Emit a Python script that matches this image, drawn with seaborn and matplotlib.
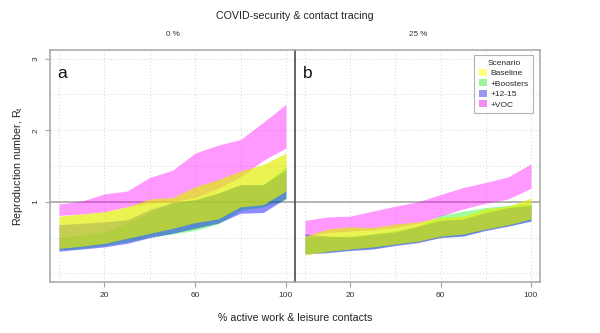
import numpy as np
import pandas as pd
import matplotlib
matplotlib.use("Agg")
import matplotlib.pyplot as plt
from matplotlib.patches import Patch
import seaborn as sns

sns.set_theme(style="white")
plt.rcParams["font.family"] = ["Liberation Sans", "DejaVu Sans"]

# % of work & leisure contacts active
contacts = [0, 10, 20, 30, 40, 50, 60, 70, 80, 90, 100]

scenarios = ["Baseline", "+Boosters", "+12-15", "+VOC"]
panels = ["0 %", "25 %"]

# Rt ranges (lower / upper) per scenario, contact-tracing coverage 0 %
baseline_lo_0 = [0.35, 0.38, 0.42, 0.49, 0.56, 0.63, 0.71, 0.76, 0.93, 0.96, 1.15]
baseline_hi_0 = [0.80, 0.83, 0.86, 0.93, 1.04, 1.06, 1.21, 1.31, 1.43, 1.52, 1.68]
boosters_lo_0 = [0.33, 0.35, 0.39, 0.44, 0.51, 0.55, 0.60, 0.69, 0.88, 0.93, 1.03]
boosters_hi_0 = [0.50, 0.54, 0.58, 0.71, 0.86, 0.99, 1.03, 1.12, 1.24, 1.24, 1.49]
kids_lo_0 = [0.31, 0.34, 0.37, 0.42, 0.50, 0.56, 0.63, 0.70, 0.84, 0.85, 1.05]
kids_hi_0 = [0.68, 0.70, 0.72, 0.75, 0.89, 0.99, 1.03, 1.12, 1.24, 1.24, 1.45]
voc_lo_0 = [0.81, 0.83, 0.86, 0.93, 0.99, 1.00, 1.06, 1.19, 1.35, 1.58, 1.75]
voc_hi_0 = [0.97, 1.01, 1.11, 1.15, 1.34, 1.44, 1.68, 1.79, 1.87, 2.11, 2.36]

# contact-tracing coverage 25 %
baseline_lo_25 = [0.26, 0.31, 0.34, 0.37, 0.41, 0.45, 0.52, 0.55, 0.62, 0.68, 0.76]
baseline_hi_25 = [0.52, 0.62, 0.65, 0.64, 0.69, 0.72, 0.78, 0.80, 0.90, 0.94, 1.05]
boosters_lo_25 = [0.28, 0.30, 0.33, 0.35, 0.40, 0.44, 0.51, 0.53, 0.61, 0.67, 0.74]
boosters_hi_25 = [0.50, 0.52, 0.52, 0.55, 0.60, 0.66, 0.81, 0.87, 0.92, 0.95, 0.98]
kids_lo_25 = [0.27, 0.29, 0.32, 0.34, 0.39, 0.43, 0.50, 0.52, 0.60, 0.66, 0.73]
kids_hi_25 = [0.55, 0.52, 0.51, 0.55, 0.58, 0.66, 0.74, 0.76, 0.85, 0.92, 0.95]
voc_lo_25 = [0.53, 0.57, 0.59, 0.61, 0.64, 0.70, 0.80, 0.90, 0.98, 1.04, 1.19]
voc_hi_25 = [0.74, 0.79, 0.80, 0.87, 0.94, 1.00, 1.10, 1.20, 1.27, 1.35, 1.53]

bands = {
    ("0 %", "Baseline"): (baseline_lo_0, baseline_hi_0),
    ("0 %", "+Boosters"): (boosters_lo_0, boosters_hi_0),
    ("0 %", "+12-15"): (kids_lo_0, kids_hi_0),
    ("0 %", "+VOC"): (voc_lo_0, voc_hi_0),
    ("25 %", "Baseline"): (baseline_lo_25, baseline_hi_25),
    ("25 %", "+Boosters"): (boosters_lo_25, boosters_hi_25),
    ("25 %", "+12-15"): (kids_lo_25, kids_hi_25),
    ("25 %", "+VOC"): (voc_lo_25, voc_hi_25),
}

rows = []
for (panel, scen), (lo, hi) in bands.items():
    for x, l, h in zip(contacts, lo, hi):
        rows.append({"panel": panel, "scenario": scen, "contacts": x, "Rt": l})
        rows.append({"panel": panel, "scenario": scen, "contacts": x, "Rt": h})
df = pd.DataFrame(rows)

band_style = {
    "+VOC": ("#FF00FF", 0.40),
    "+Boosters": ("#00FF00", 0.37),
    "+12-15": ("#0000FF", 0.45),
    "Baseline": ("#E1EE00", 0.68),
}
draw_order = ["+VOC", "+Boosters", "+12-15", "Baseline"]
legend_colors = {
    "Baseline": "#FFFF80",
    "+Boosters": "#A0F0A0",
    "+12-15": "#9999F0",
    "+VOC": "#F58CF5",
}

fig = plt.figure(figsize=(6.0, 3.33), dpi=100)
ax_a = fig.add_axes([50 / 600, 51 / 333, 245 / 600, 232 / 333])
ax_b = fig.add_axes([296 / 600, 51 / 333, 244 / 600, 232 / 333])

grid_c = "#DCDCDC"
frame_c = "#A6A6A6"
for ax, panel, letter in [(ax_a, "0 %", "a"), (ax_b, "25 %", "b")]:
    ax.set_xlim(-4, 104)
    ax.set_ylim(-0.12, 3.12)
    for gx in [0, 20, 40, 60, 80, 100]:
        ax.axvline(gx, color=grid_c, lw=0.8, ls=(0, (1, 2)), zorder=0)
    for gy in np.arange(0, 3.01, 0.5):
        ax.axhline(gy, color=grid_c, lw=0.8, ls=(0, (1, 2)), zorder=0)
    ax.axhline(1, color="#A0A0A0", lw=1.1, zorder=0.5)

    for scen in draw_order:
        c, a = band_style[scen]
        sub = df[(df.panel == panel) & (df.scenario == scen)]
        sns.lineplot(data=sub, x="contacts", y="Rt", estimator="mean",
                     errorbar=("pi", 100), color=c, linewidth=0,
                     err_kws={"alpha": a, "linewidth": 0}, ax=ax, legend=False)

    ax.set_xlabel("")
    ax.set_ylabel("")
    ax.set_xticks([20, 60, 100])
    ax.set_xticklabels(["20", "60", "100"])
    ax.tick_params(axis="x", length=3.5, width=0.8, color=frame_c, labelsize=6,
                   labelcolor="#333333", pad=4, bottom=True)
    for s in ax.spines.values():
        s.set_color(frame_c)
        s.set_linewidth(1.1)
    ax.text(0.03, 0.9, letter, transform=ax.transAxes, fontsize=12.5,
            color="#111111", ha="left", va="center")
    ax.text(0.5, 1 + 15 / 232, panel, transform=ax.transAxes, fontsize=5.8,
            ha="center", va="center", color="#333333")

ax_a.set_yticks([1, 2, 3])
ax_a.set_yticklabels(["1", "2", "3"], rotation=90, va="center")
ax_a.tick_params(axis="y", length=3.5, width=0.8, color=frame_c, labelsize=6,
                 labelcolor="#333333", pad=4, left=True)
ax_a.spines["right"].set_color("#3A3A3A")
ax_b.set_yticks([])
ax_b.spines["left"].set_visible(False)

fig.text(295 / 600, 1 - 16 / 333, "COVID-security & contact tracing",
         fontsize=7.7, ha="center", va="center", color="#222222")
fig.text(295 / 600, 1 - 318 / 333, "% active work & leisure contacts",
         fontsize=7.7, ha="center", va="center", color="#222222")
fig.text(18 / 600, 1 - 166 / 333, "Reproduction number, $\\mathregular{R_t}$",
         fontsize=7.7, ha="center", va="center", rotation=90, color="#222222")

handles = [Patch(facecolor=legend_colors[s], edgecolor="none", label=s) for s in scenarios]
leg = ax_b.legend(handles=handles, title="Scenario", loc="upper right",
                  bbox_to_anchor=(0.99, 0.995), fontsize=6, title_fontsize=6,
                  frameon=True, fancybox=False, handlelength=0.9, handleheight=0.9,
                  handletextpad=0.5, borderpad=0.55, labelspacing=0.25)
leg.get_frame().set_edgecolor("#A0A0A0")
leg.get_frame().set_linewidth(0.8)

fig.savefig("out.png", dpi=100, facecolor="white")
